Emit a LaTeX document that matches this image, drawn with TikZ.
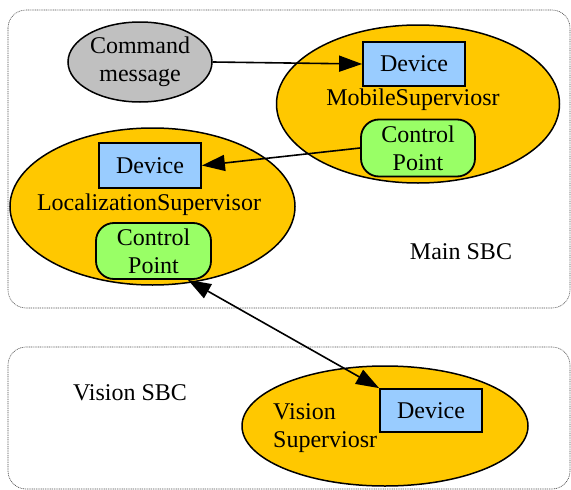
\documentclass[tikz,border=0pt]{standalone}
\usepackage{fontspec}
\setmainfont{Liberation Serif}
\usetikzlibrary{arrows.meta,shapes.geometric}

\definecolor{supfill}{HTML}{FFC800}
\definecolor{devfill}{HTML}{99CCFF}
\definecolor{cpfill}{HTML}{99FF66}
\definecolor{cmdfill}{HTML}{C0C0C0}

\tikzset{
  txt/.style={font=\fontsize{24}{28}\selectfont, inner sep=0pt, align=center},
  sbc/.style={draw=black!70, line width=0.6pt, dash pattern=on 1pt off 0.8pt, rounded corners=18pt},
  supervisor/.style={ellipse, draw, line width=1.5pt, fill=supfill, inner sep=0pt},
  cmdnode/.style={ellipse, draw, line width=1.5pt, fill=cmdfill, inner sep=0pt, txt},
  devbox/.style={rectangle, draw, line width=1.8pt, fill=devfill, txt},
  cpbox/.style={rectangle, draw, line width=1.8pt, fill=cpfill, rounded corners=18pt, txt},
  link/.style={line width=1.6pt, -{Triangle[length=23pt,width=16pt]}},
  bilink/.style={line width=1.6pt, {Triangle[length=23pt,width=16pt]}-{Triangle[length=23pt,width=16pt]}},
}

\begin{document}
\begin{tikzpicture}[x=1pt,y=-1pt]
  \useasboundingbox (0,0) rectangle (571,490);

  % board frames
  \path[sbc] (8,10) rectangle (570,308);
  \path[sbc] (8,347) rectangle (570,489);
  \node[txt] (mainlbl) at (461,252) {Main SBC};
  \node[txt] (vislbl) at (130,393) {Vision SBC};

  % command source
  \node[cmdnode, minimum width=144pt, minimum height=80pt] (cmd) at (140,62) {Command\\message};

  % mobile supervisor
  \node[supervisor, minimum width=283pt, minimum height=158pt] (mobile) at (418,104) {};
  \node[devbox, minimum width=102pt, minimum height=44pt] (mdev) at (414,64) {Device};
  \node[txt] (mlbl) at (413,100) {MobileSuperviosr};
  \node[cpbox, minimum width=114pt, minimum height=57pt] (mcp) at (418,148) {Control\\Point};

  % localization supervisor
  \node[supervisor, minimum width=285pt, minimum height=157pt] (local) at (152.5,206.5) {};
  \node[devbox, minimum width=102pt, minimum height=45pt] (ldev) at (150,165.5) {Device};
  \node[txt] (llbl) at (149,205) {LocalizationSupervisor};
  \node[cpbox, minimum width=115pt, minimum height=56pt] (lcp) at (153.5,251) {Control\\Point};

  % vision supervisor
  \node[supervisor, minimum width=286pt, minimum height=120pt] (vision) at (385,426) {};
  \node[devbox, minimum width=102pt, minimum height=43pt] (vdev) at (431,410.5) {Device};
  \node[txt, align=left, anchor=west] (vlbl) at (273,428) {Vision\\Superviosr};

  % connectors
  \draw[link] (cmd.east) -- (mdev.west);
  \draw[link] (mcp.west) -- (ldev.east);
  \draw[bilink] (lcp.-40) -- (vdev.north west);
\end{tikzpicture}
\end{document}
